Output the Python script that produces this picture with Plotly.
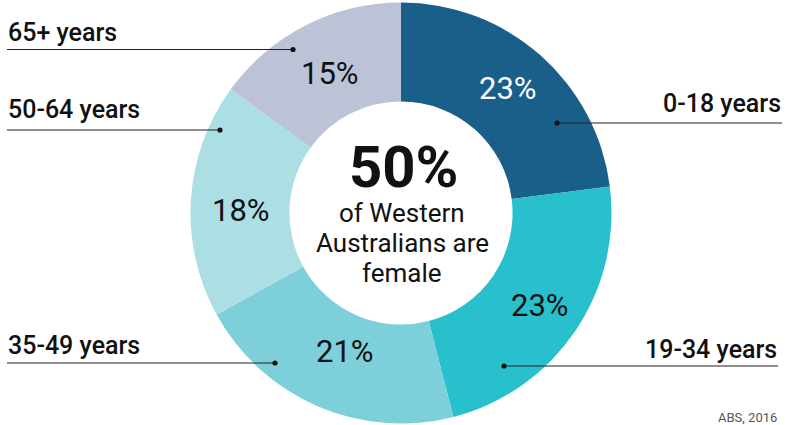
import math
import plotly.graph_objects as go

# ---- data ----
age_groups = ["0-18 years", "19-34 years", "35-49 years", "50-64 years", "65+ years"]
shares = [23, 23, 21, 18, 15]
slice_colors = ["#1a5e8a", "#27c0cc", "#7dcfda", "#acdfe3", "#bcc3d6"]
text_colors = ["white", "#111111", "#111111", "#111111", "#111111"]
headline_value = "50%"
headline_text = ["of Western", "Australians are", "female"]
source_note = "ABS, 2016"

W, H = 785, 425
FONT = "Roboto"
HOLE = 0.53


def px(x):
    return x / W


def py(y):
    return 1 - y / H


# donut geometry (pixels)
cx, cy, R = 401, 213, 210.5

fig = go.Figure(go.Pie(
    labels=age_groups,
    values=shares,
    textinfo="none",
    marker=dict(colors=slice_colors, line=dict(width=0)),
    hole=HOLE,
    sort=False,
    direction="clockwise",
    rotation=0,
    hovertemplate="%{label}: %{value}%<extra></extra>",
    showlegend=False,
    domain=dict(x=[px(cx - R), px(cx + R)], y=[py(cy + R), py(cy - R)]),
))

annotations = []
shapes = []

# percentage labels at slice centroids (computed from the data), with small nudges
label_nudge = {
    "0-18 years": (1, -4),
    "19-34 years": (6, 2),
    "35-49 years": (8, -9),
    "50-64 years": (1, 8),
    "65+ years": (2, 4),
}
total = sum(shares)
cum = 0.0
r_mid = R * (1 + HOLE) / 2
for name, v, tc in zip(age_groups, shares, text_colors):
    mid = (cum + v / 2) / total * 2 * math.pi
    cum += v
    nx, ny = label_nudge[name]
    lx = cx + r_mid * math.sin(mid) + nx
    ly = cy - r_mid * math.cos(mid) + ny
    annotations.append(dict(
        x=px(lx), y=py(ly), xref="paper", yref="paper",
        text=f"{v}%", showarrow=False, xanchor="center", yanchor="middle",
        font=dict(family=FONT, size=31, color=tc), borderpad=0,
    ))

# category labels with leader lines:
# (text_anchor_x, text_center_y, xanchor, line_y, line_x0, line_x1, dot_x)
label_layout = {
    "0-18 years": (782, 103.5, "right", 123, 557, 782, 557),
    "19-34 years": (778, 349.5, "right", 366, 504, 778, 504),
    "35-49 years": (7, 345.5, "left", 363, 7, 275, 275),
    "50-64 years": (7, 109.5, "left", 130, 7, 220, 220),
    "65+ years": (7, 32.5, "left", 49.5, 7, 293, 293),
}

for name in age_groups:
    tx, ty, xa, ly, x0, x1, dx = label_layout[name]
    annotations.append(dict(
        x=px(tx), y=py(ty), xref="paper", yref="paper",
        text=name, showarrow=False, xanchor=xa, yanchor="middle",
        font=dict(family=FONT, size=25, color="#111111", weight=500),
        borderpad=0,
    ))
    shapes.append(dict(type="line", xref="paper", yref="paper",
                       x0=px(x0), x1=px(x1), y0=py(ly), y1=py(ly),
                       line=dict(color="#222222", width=1.2)))
    r = 2.6
    shapes.append(dict(type="circle", xref="paper", yref="paper",
                       x0=px(dx - r), x1=px(dx + r), y0=py(ly + r), y1=py(ly - r),
                       fillcolor="#111111", line=dict(width=0)))

# centre text
annotations.append(dict(
    x=px(403), y=py(167), xref="paper", yref="paper",
    text=f"<b>{headline_value}</b>", showarrow=False,
    xanchor="center", yanchor="middle",
    font=dict(family=FONT, size=58, color="#111111"), borderpad=0,
))
for i, line in enumerate(headline_text):
    annotations.append(dict(
        x=px(402), y=py(213 + 30 * i), xref="paper", yref="paper",
        text=line, showarrow=False,
        xanchor="center", yanchor="middle",
        font=dict(family=FONT, size=26, color="#111111"), borderpad=0,
    ))

annotations.append(dict(
    x=px(778), y=py(417), xref="paper", yref="paper",
    text=source_note, showarrow=False,
    xanchor="right", yanchor="middle",
    font=dict(family=FONT, size=13, color="#555555"), borderpad=0,
))

fig.update_layout(
    width=W, height=H,
    margin=dict(l=0, r=0, t=0, b=0),
    paper_bgcolor="white", plot_bgcolor="white",
    shapes=shapes, annotations=annotations,
    font=dict(family=FONT),
)

fig.write_html(
    "out.html",
    config={"displayModeBar": False},
    post_script="document.body.style.margin='0';document.body.style.overflow='hidden';",
)
